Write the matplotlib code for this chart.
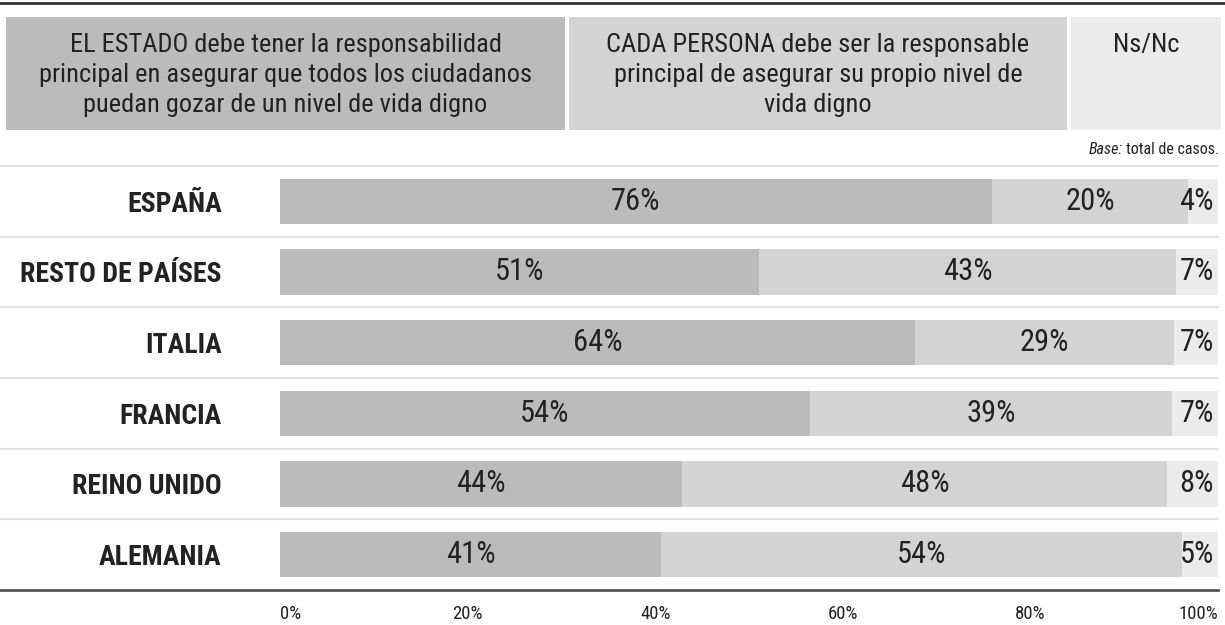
import matplotlib
matplotlib.use("Agg")
import matplotlib.pyplot as plt
from matplotlib import font_manager as fm
from matplotlib.patches import Rectangle
from matplotlib.lines import Line2D
import numpy as np

# ---------------- data ----------------
countries = ["ESPAÑA", "RESTO DE PAÍSES", "ITALIA", "FRANCIA", "REINO UNIDO", "ALEMANIA"]
# bar segment lengths as drawn in the picture (percent)
estado = [75.9, 51.1, 67.7, 56.5, 42.9, 40.6]
persona = [20.9, 44.4, 27.6, 38.6, 51.7, 55.6]
nsnc = [3.2, 4.5, 4.7, 4.9, 5.4, 3.8]
# printed labels
estado_lbl = ["76%", "51%", "64%", "54%", "44%", "41%"]
persona_lbl = ["20%", "43%", "29%", "39%", "48%", "54%"]
nsnc_lbl = ["4%", "7%", "7%", "7%", "8%", "5%"]
xticks = [0, 20, 40, 60, 80, 100]
xtick_lbl = ["0%", "20%", "40%", "60%", "80%", "100%"]
header_txt = [
    "EL ESTADO debe tener la responsabilidad\nprincipal en asegurar que todos los ciudadanos\npuedan gozar de un nivel de vida digno",
    "CADA PERSONA debe ser la responsable\nprincipal de asegurar su propio nivel de\nvida digno",
    "Ns/Nc",
]

# ---------------- style ----------------
names = {f.name for f in fm.fontManager.ttflist}
FONT = next((n for n in ["Roboto Condensed", "Liberation Sans Narrow"] if n in names), "Roboto")
plt.rcParams["font.family"] = [FONT, "DejaVu Sans"]

C1, C2, C3 = "#bbbbbb", "#d3d3d3", "#ebebeb"
TXT = "#222222"

W, H = 1225, 625
fig = plt.figure(figsize=(W / 100, H / 100), dpi=100)

def fx(px):
    return px / W

def fy(py):
    return 1 - py / H

# top rule
fig.add_artist(Line2D([0, 1], [fy(3), fy(3)], transform=fig.transFigure, color="#333333", lw=2))

# header boxes
boxes = [(6, 565), (569, 1067), (1071, 1221)]
for (x0, x1), col, txt in zip(boxes, [C1, C2, C3], header_txt):
    fig.add_artist(Rectangle((fx(x0), fy(130)), fx(x1) - fx(x0), (130 - 17) / H,
                             transform=fig.transFigure, facecolor=col, edgecolor="none"))
    fig.text(fx((x0 + x1) / 2), fy(33), txt, ha="center", va="top", fontsize=19,
             color=TXT, linespacing=1.32)

# base note
renderer = fig.canvas.get_renderer()
t = fig.text(fx(1219), fy(150), "total de casos.", ha="right", va="center", fontsize=11.5, color=TXT)
bb = t.get_window_extent(renderer)
fig.text((bb.x0 - 3) / W, fy(150), "Base:", ha="right", va="center", fontsize=11.5, color=TXT, style="italic")

# main axes
x_left, x_right, y_top, y_bot = 280, 1218, 166, 590
ax = fig.add_axes([fx(x_left), fy(y_bot), fx(x_right) - fx(x_left), (y_bot - y_top) / H])
n = len(countries)
y = np.arange(n)
est = np.array(estado)
per = np.array(persona)
ns = np.array(nsnc)
bh = 0.64
ax.barh(y, est, height=bh, color=C1)
ax.barh(y, per, left=est, height=bh, color=C2)
ax.barh(y, ns, left=est + per, height=bh, color=C3)
ax.set_xlim(0, 100)
ax.set_ylim(n - 0.5, -0.5)

VS = 22
for i in range(n):
    ax.text(est[i] / 2, y[i], estado_lbl[i], ha="center", va="center", fontsize=VS, color=TXT)
    ax.text(est[i] + per[i] / 2, y[i], persona_lbl[i], ha="center", va="center", fontsize=VS, color=TXT)
    ax.annotate(nsnc_lbl[i], xy=(est[i] + per[i] + ns[i], y[i]), xytext=(-4, 0),
                textcoords="offset pixels", ha="right", va="center", fontsize=VS, color=TXT)

ax.set_yticks(y)
ax.set_yticklabels(countries, fontsize=20, fontweight="bold", color=TXT)
ax.tick_params(axis="y", length=0, pad=42)
ax.set_xticks(xticks)
ax.set_xticklabels(xtick_lbl, fontsize=13.5, color=TXT)
ax.tick_params(axis="x", length=0, pad=11)
labs = ax.get_xticklabels()
labs[0].set_ha("left")
labs[-1].set_ha("right")
for s in ax.spines.values():
    s.set_visible(False)

frac = -x_left / (x_right - x_left)
for yy in np.arange(-0.5, n - 1, 1.0):
    ax.axhline(yy, xmin=frac, xmax=1, color="#e2e2e2", lw=1.5, clip_on=False, zorder=0)
ax.axhline(n - 0.5, xmin=frac, xmax=1, color="#555555", lw=2, clip_on=False)

fig.savefig("out.png", dpi=100)
